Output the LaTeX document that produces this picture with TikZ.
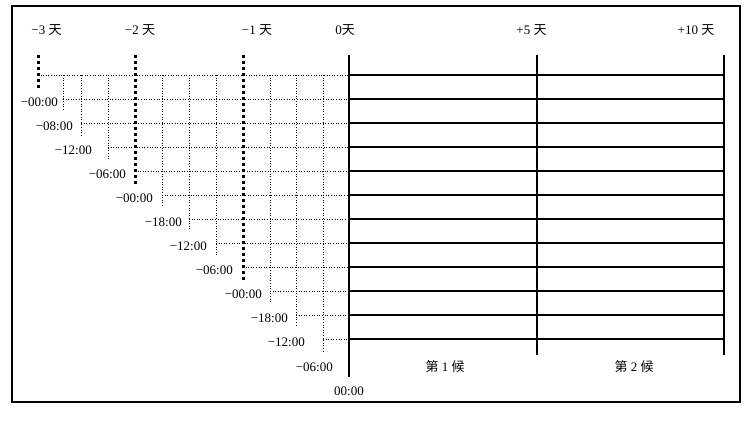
\documentclass[tikz,border=0pt]{standalone}
\usepackage{fontspec}
\setmainfont{Liberation Serif}
\newfontfamily\cjk{Noto Sans CJK SC}
\begin{document}
\begin{tikzpicture}[x=1pt,y=-1pt,
  lbl/.style={font=\fontsize{13}{15}\selectfont, inner sep=0pt},
  gridline/.style={line width=0.6pt, dotted},
  daydots/.style={line width=3pt, dash pattern=on 3pt off 3pt},
  rowline/.style={line width=1.1pt},
  dayline/.style={line width=1.1pt},
  frame/.style={line width=1.4pt}]
\useasboundingbox (0,0) rectangle (755,421);
\draw[frame] (12,6) rectangle (740,402);
% rows
\foreach \i/\s in {1/38,2/63,3/81,4/108,5/135,6/162,7/189,8/216,9/243,10/270,11/296,12/323}{
  \pgfmathsetmacro\yy{75+24*(\i-1)}
  \coordinate (rs\i) at (\s,\yy);
  \coordinate (rm\i) at (349,\yy);
  \coordinate (re\i) at (724,\yy);
  \draw[gridline] (rs\i) -- (rm\i);
  \draw[rowline] (rm\i) -- (re\i);
}
% vertical dotted lines
\foreach \i/\s in {2/63,3/81,4/108,6/162,7/189,8/216,10/270,11/296,12/323}{
  \pgfmathsetmacro\yb{75+24*(\i-1)+12}
  \coordinate (vt\i) at (\s,75);
  \coordinate (vb\i) at (\s,\yb);
  \draw[gridline] (vt\i) -- (vb\i);
}
% thick dotted day lines
\coordinate (d3t) at (38,55);  \coordinate (d3b) at (38,88);
\coordinate (d2t) at (135,55); \coordinate (d2b) at (135,184);
\coordinate (d1t) at (243,55); \coordinate (d1b) at (243,280);
\draw[daydots] (d3t) -- (d3b);
\draw[daydots] (d2t) -- (d2b);
\draw[daydots] (d1t) -- (d1b);
% solid day lines
\coordinate (d0t) at (349,55);  \coordinate (d0b) at (349,377);
\coordinate (p5t) at (537,55);  \coordinate (p5b) at (537,355);
\coordinate (p10t) at (724,55); \coordinate (p10b) at (724,355);
\draw[dayline] (d0t) -- (d0b);
\draw[dayline] (p5t) -- (p5b);
\draw[dayline] (p10t) -- (p10b);
% day labels
\node[lbl] (lm3) at (46.5,30) {−3 {\cjk 天}};
\node[lbl] (lm2) at (140,30) {−2 {\cjk 天}};
\node[lbl] (lm1) at (257,30) {−1 {\cjk 天}};
\node[lbl] (l0) at (345,30) {0{\cjk 天}};
\node[lbl] (lp5) at (531.5,30) {+5 {\cjk 天}};
\node[lbl] (lp10) at (696,30) {+10 {\cjk 天}};
% time labels
\node[lbl,anchor=east] (t2) at (58,102) {−00:00};
\node[lbl,anchor=east] (t3) at (73,126) {−08:00};
\node[lbl,anchor=east] (t4) at (92,150) {−12:00};
\node[lbl,anchor=east] (t5) at (126,174) {−06:00};
\node[lbl,anchor=east] (t6) at (153,198) {−00:00};
\node[lbl,anchor=east] (t7) at (182,222) {−18:00};
\node[lbl,anchor=east] (t8) at (207,246) {−12:00};
\node[lbl,anchor=east] (t9) at (233,270) {−06:00};
\node[lbl,anchor=east] (t10) at (262,294) {−00:00};
\node[lbl,anchor=east] (t11) at (288,318) {−18:00};
\node[lbl,anchor=east] (t12) at (305,342) {−12:00};
\node[lbl,anchor=east] (t13) at (333,367) {−06:00};
\node[lbl] (t14) at (349,391) {00:00};
% pentad labels
\node[lbl] (h1) at (445,367) {{\cjk 第} 1 {\cjk 候}};
\node[lbl] (h2) at (634,367) {{\cjk 第} 2 {\cjk 候}};
\end{tikzpicture}
\end{document}
